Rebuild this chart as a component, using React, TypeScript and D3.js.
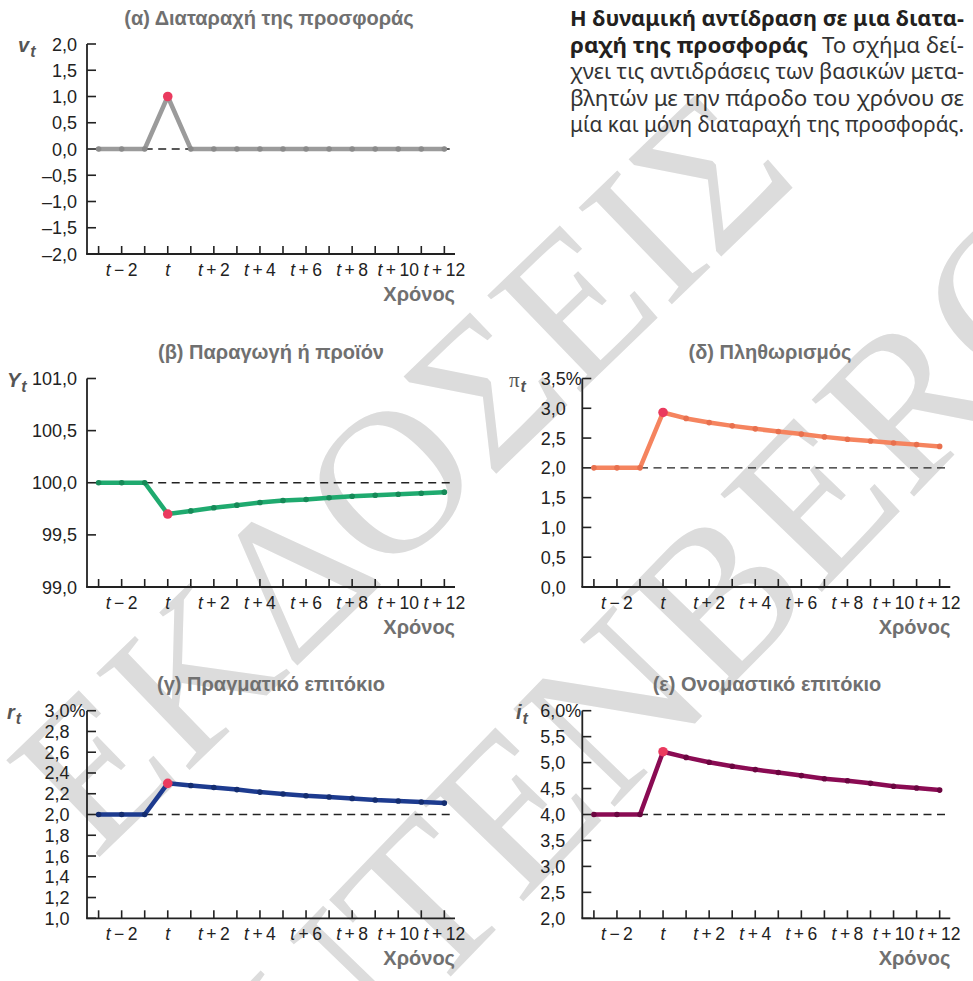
import React from "react";
import * as d3 from "d3";

// ---------- data ----------
const periods = [-3, -2, -1, 0, 1, 2, 3, 4, 5, 6, 7, 8, 9, 10, 11, 12];
const labeledPeriods = [-2, 0, 2, 4, 6, 8, 10, 12];
const shockIndex = 3;

const supplyShock = [0, 0, 0, 1, 0, 0, 0, 0, 0, 0, 0, 0, 0, 0, 0, 0];
const output = [100, 100, 100, 99.7, 99.73, 99.76, 99.785, 99.81, 99.83, 99.84, 99.856, 99.87, 99.88, 99.89, 99.9, 99.91];
const inflation = [2, 2, 2, 2.93, 2.83, 2.76, 2.705, 2.655, 2.61, 2.567, 2.52, 2.48, 2.45, 2.417, 2.39, 2.36];
const realRate = [2, 2, 2, 2.3, 2.28, 2.26, 2.24, 2.216, 2.197, 2.18, 2.168, 2.155, 2.14, 2.13, 2.12, 2.11];
const nominalRate = [4, 4, 4, 5.21, 5.1, 5.006, 4.93, 4.865, 4.81, 4.75, 4.69, 4.65, 4.6, 4.545, 4.51, 4.47];

const ticksA = [-2, -1.5, -1, -0.5, 0, 0.5, 1, 1.5, 2];
const ticksB = [99, 99.5, 100, 100.5, 101];
const ticksD = [0, 0.5, 1, 1.5, 2, 2.5, 3, 3.5];
const ticksG = [1, 1.2, 1.4, 1.6, 1.8, 2, 2.2, 2.4, 2.6, 2.8, 3];
const ticksE = [2, 2.5, 3, 3.5, 4, 4.5, 5, 5.5, 6];

const titles = [
  "(α) Διαταραχή της προσφοράς",
  "(β) Παραγωγή ή προϊόν",
  "(δ) Πληθωρισμός",
  "(γ) Πραγματικό επιτόκιο",
  "(ε) Ονομαστικό επιτόκιο",
];
const xAxisTitle = "Χρόνος";

const captionBold1 = "Η δυναμική αντίδραση σε μια διατα-";
const captionBold2 = "ραχή της προσφοράς";
const captionRest2 = "Το σχήμα δεί-";
const captionLines = [
  "χνει τις αντιδράσεις των βασικών μετα-",
  "βλητών με την πάροδο του χρόνου σε",
  "μία και μόνη διαταραχή της προσφοράς.",
];
const watermark1 = "ΕΚΔΟΣΕΙΣ";
const watermark2 = "GUTENBERG";

// ---------- styling ----------
const FONT = "'Liberation Sans', Arial, Helvetica, sans-serif";
const TITLE_COLOR = "#707070";
const LABEL_COLOR = "#555";
const RED = "#ea3a5e";
const YTICK_FS = 18;
const XTICK_FS = 17.5;

type Spec = {
  title: string;
  titleX: number;
  titleY: number;
  axisX: number;
  top: number;
  bottom: number;
  domain: [number, number];
  ticks: number[];
  values: number[];
  baseline: number;
  color: string;
  dot: string;
  labelGap: number;
  percent: boolean;
  ylab: string;
  ylabX: number;
  ylabSerif?: boolean;
};

const fmt = (v: number) => {
  const s = d3.format(".1f")(Math.abs(v)).replace(".", ",");
  return v < 0 ? "–" + s : s;
};

const periodLabel = (p: number) =>
  p === 0 ? "" : p < 0 ? "\u2009−\u2009" + Math.abs(p) : "\u2009+\u2009" + p;

function Panel({ s }: { s: Spec }) {
  const x = d3
    .scaleLinear()
    .domain([periods[0], periods[periods.length - 1]])
    .range([s.axisX + 11.6, s.axisX + 11.6 + 15 * 23.05]);
  const y = d3.scaleLinear().domain(s.domain).range([s.bottom, s.top]);
  const axisEnd = s.axisX + 368;
  const line = d3
    .line<number>()
    .x((_, i) => x(periods[i]))
    .y((d) => y(d));
  const labelX = s.axisX - s.labelGap;
  return (
    <g fontFamily={FONT}>
      <text x={s.titleX} y={s.titleY} textAnchor="middle" fontWeight="bold" fontSize={20} fill={TITLE_COLOR}>
        {s.title}
      </text>
      {/* y label */}
      <text x={s.ylabX} y={s.top + 8} fill={LABEL_COLOR} fontWeight="bold" fontSize={20}>
        {s.ylabSerif ? (
          <tspan fontFamily="'Liberation Serif', serif" fontWeight="normal" fontSize={21}>
            {s.ylab}
          </tspan>
        ) : (
          <tspan fontStyle="italic">{s.ylab}</tspan>
        )}
        <tspan fontStyle="italic" fontSize={16} dy={5} dx={1}>
          t
        </tspan>
      </text>
      {/* y axis */}
      <line x1={s.axisX} x2={s.axisX} y1={s.top} y2={s.bottom} stroke="#222" strokeWidth={1.8} />
      {s.ticks.map((t, i) => (
        <g key={"yt" + i}>
          <line x1={s.axisX} x2={s.axisX + 9} y1={y(t)} y2={y(t)} stroke="#222" strokeWidth={1.6} />
          <text x={labelX} y={y(t) + 6.5} textAnchor="end" fontSize={YTICK_FS} fill="#222">
            {fmt(t)}
          </text>
          {s.percent && i === s.ticks.length - 1 ? (
            <text x={labelX} y={y(t) + 6.5} fontSize={YTICK_FS} fill="#222">
              %
            </text>
          ) : null}
        </g>
      ))}
      {/* x axis */}
      <line x1={s.axisX - 0.9} x2={axisEnd} y1={s.bottom} y2={s.bottom} stroke="#222" strokeWidth={1.8} />
      {periods.map((p) => (
        <line key={"xt" + p} x1={x(p)} x2={x(p)} y1={s.bottom} y2={s.bottom - 8} stroke="#222" strokeWidth={1.6} />
      ))}
      {labeledPeriods.map((p) => (
        <text key={"xl" + p} x={x(p)} y={s.bottom + 22} textAnchor="middle" fontSize={XTICK_FS} fill="#222">
          <tspan fontStyle="italic">t</tspan>
          {periodLabel(p)}
        </text>
      ))}
      <text x={axisEnd} y={s.bottom + 47} textAnchor="end" fontWeight="bold" fontSize={20} fill={TITLE_COLOR}>
        {xAxisTitle}
      </text>
      {/* baseline */}
      <line
        x1={x(-1)}
        x2={axisEnd}
        y1={y(s.baseline)}
        y2={y(s.baseline)}
        stroke="#222"
        strokeWidth={1.4}
        strokeDasharray="8 5.5"
      />
      {/* series */}
      <path d={line(s.values) || ""} fill="none" stroke={s.color} strokeWidth={4.5} strokeLinejoin="round" strokeLinecap="round" />
      {s.values.map((v, i) => (
        <circle key={"pt" + i} cx={x(periods[i])} cy={y(v)} r={2.8} fill={s.dot} />
      ))}
      <circle cx={x(periods[shockIndex])} cy={y(s.values[shockIndex])} r={4.8} fill={RED} />
    </g>
  );
}

const specs: Spec[] = [
  {
    title: titles[0], titleX: 269, titleY: 25, axisX: 87, top: 44, bottom: 254, domain: [-2, 2], ticks: ticksA,
    values: supplyShock, baseline: 0, color: "#9b9b9b", dot: "#8a8a8a", labelGap: 10, percent: false, ylab: "v", ylabX: 18,
  },
  {
    title: titles[1], titleX: 271, titleY: 359, axisX: 87, top: 378.5, bottom: 587, domain: [99, 101], ticks: ticksB,
    values: output, baseline: 100, color: "#1faa6f", dot: "#168a58", labelGap: 10, percent: false, ylab: "Y", ylabX: 7,
  },
  {
    title: titles[2], titleX: 770, titleY: 359, axisX: 582.3, top: 378.5, bottom: 587, domain: [0, 3.5], ticks: ticksD,
    values: inflation, baseline: 2, color: "#f5845f", dot: "#e8704e", labelGap: 16.5, percent: true, ylab: "π", ylabX: 509,
    ylabSerif: true,
  },
  {
    title: titles[3], titleX: 271, titleY: 691, axisX: 87, top: 710.7, bottom: 918.3, domain: [1, 3], ticks: ticksG,
    values: realRate, baseline: 2, color: "#1d3b8f", dot: "#142d70", labelGap: 17.5, percent: true, ylab: "r", ylabX: 7,
  },
  {
    title: titles[4], titleX: 767, titleY: 691, axisX: 582.3, top: 710.7, bottom: 918.3, domain: [2, 6], ticks: ticksE,
    values: nominalRate, baseline: 4, color: "#8a0b53", dot: "#6b0640", labelGap: 17, percent: true, ylab: "i", ylabX: 516,
  },
];

function Caption() {
  const left = 570;
  const right = 964;
  const base = 26;
  const step = 26.5;
  const cf = "'Noto Sans', 'Open Sans', sans-serif";
  return (
    <g fontFamily={cf} fontSize={22} fill="#231f20">
      <text x={left} y={base} fontWeight="bold" textLength={right - left} lengthAdjust="spacingAndGlyphs">
        {captionBold1}
      </text>
      <text x={left} y={base + step} fontWeight="bold" textLength={238} lengthAdjust="spacingAndGlyphs">
        {captionBold2}
      </text>
      <text x={822} y={base + step} fill="#333" textLength={right - 822} lengthAdjust="spacingAndGlyphs">
        {captionRest2}
      </text>
      {captionLines.map((l, i) => (
        <text key={i} x={left} y={base + step * (i + 2)} fill="#333" textLength={right - left} lengthAdjust="spacingAndGlyphs">
          {l}
        </text>
      ))}
    </g>
  );
}

function Watermark() {
  return (
    <g fontFamily="'Liberation Serif', 'DejaVu Serif', serif" fill="#dcdcdc">
      <text x={400} y={470} transform="rotate(-44 400 470)" textAnchor="middle" dominantBaseline="central" fontSize={205}>
        {watermark1}
      </text>
      <text x={612} y={705} transform="rotate(-46 612 705)" textAnchor="middle" dominantBaseline="central" fontSize={215}>
        {watermark2}
      </text>
    </g>
  );
}

export default function App() {
  return (
    <svg
      width={973}
      height={981}
      viewBox="0 0 973 981"
      style={{ position: "absolute", left: 0, top: 0, background: "#fff" }}
    >
      <rect width={973} height={981} fill="#fff" />
      <Watermark />
      <Caption />
      {specs.map((s, i) => (
        <Panel key={i} s={s} />
      ))}
    </svg>
  );
}
